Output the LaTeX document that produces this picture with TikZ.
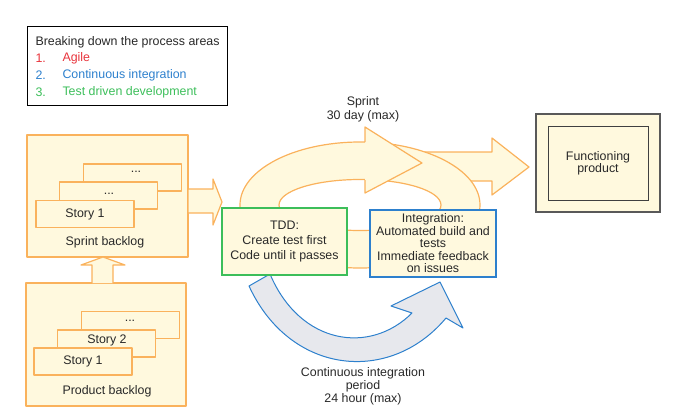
\documentclass[tikz,border=0pt]{standalone}
\usepackage{fontspec}
\setmainfont{Liberation Sans}
\usetikzlibrary{positioning}

\definecolor{agilered}{RGB}{232,52,60}
\definecolor{ciblue}{RGB}{45,128,205}
\definecolor{tddgreen}{RGB}{60,190,90}
\definecolor{paleyellow}{RGB}{255,249,222}
\definecolor{orangeline}{RGB}{250,178,92}
\definecolor{cigray}{RGB}{231,232,237}
\definecolor{textgray}{RGB}{40,40,40}

\tikzset{
  every node/.style={font=\fontsize{12.4}{13}\selectfont, text=textgray},
  area/.style={draw=orangeline, fill=paleyellow, line width=1.2pt, line join=round},
  card/.style={area, minimum width=98pt, minimum height=27pt, inner sep=0pt},
  stepbox/.style={fill=paleyellow, line width=1.2pt, minimum width=125pt, minimum height=67pt, align=center},
  ciarrow/.style={draw=ciblue, fill=cigray, line width=1pt, line join=round},
}

\begin{document}
\begin{tikzpicture}[x=1pt,y=-1pt]
   \useasboundingbox (0,0) rectangle (689,418);
   % legend
   \node[draw=black, line width=0.8pt, minimum width=200pt, minimum height=79pt] (legend) at (127,65.5) {};
   \node[anchor=west] (legtitle) at (32,42) {Breaking down the process areas};
   \foreach \n/\t/\c in {1/Agile/agilered, 2/Continuous integration/ciblue, 3/Test driven development/tddgreen}
     {
     \node[anchor=west, text=\c] (num\n) at (32,41+17*\n) {\n.};
     \node[anchor=west, text=\c] (item\n) at (59,41+17*\n) {\t};
     }

   % sprint backlog
   \node[area, minimum width=161pt, minimum height=122pt] (sprint) at (107.5,196) {};
   \node[card] (sb3) at (132.5,177.5) {};
   \node[card] (sb2) at (108.5,195.5) {};
   \node[card] (sb1) at (85,214) {Story 1};
   \node (sb3dots) at (136,172) {...};
   \node (sb2dots) at (109,194) {...};
   \node (sbtitle) at (105,242) {Sprint backlog};

   % product backlog
   \node[area, minimum width=160pt, minimum height=123pt] (product) at (106,344.5) {};
   \node[card] (pb3) at (130.5,325) {};
   \node[card] (pb2) at (106.5,343.5) {};
   \node[card] (pb1) at (83,361.5) {Story 1};
   \node (pb3dots) at (130,321) {...};
   \node (pb2text) at (107,340.5) {Story 2};
   \node (pbtitle) at (107,391) {Product backlog};

   % block arrows between the backlogs and into the loop
   \draw[area] (92,283) -- (92,265) -- (81,265) -- (103,257) -- (125,265) -- (113,265) -- (113,283);
   \filldraw[area] (188,189) -- (213,189) -- (213,179) -- (222,202) -- (213,225) -- (213,213) -- (188,213) -- cycle;

   % on to the product, behind the loop
   \filldraw[area] (420,152) -- (492,152) -- (492,138) -- (529,167) -- (492,195) -- (492,181) -- (420,181) -- cycle;

   % sprint loop
   \filldraw[area, even odd rule] (360,205) ellipse [x radius=120pt, y radius=63pt]
                                  (360,205) ellipse [x radius=81pt, y radius=25.5pt];
   \fill[paleyellow] (365,142) -- (365,127) -- (422,163) -- (365,193) -- (365,180) -- cycle;
   \draw[area, fill=none] (365,142) -- (365,127) -- (422,163) -- (365,193) -- (365,180);
   \node[align=center, font=\fontsize{12.4}{14}\selectfont] (sprintlabel) at (363,109) {Sprint\\30 day (max)};

   % continuous integration
   \filldraw[ciarrow] (249,286) .. controls (290,375) and (390,385) .. (446,318) -- (463,328) -- (440,282)
        -- (391,306) -- (412,313) .. controls (370,355) and (300,345) .. (270,274) -- cycle;
   \node[align=center] (cilabel) at (363,386) {Continuous integration\\period\\24 hour (max)};

   \node[stepbox, draw=tddgreen, font=\fontsize{12.4}{15}\selectfont] (tdd) at (284.5,241.5)
        {TDD:\\Create test first\\Code until it passes};
   \node[stepbox, draw=ciblue, minimum width=126pt, font=\fontsize{12.4}{12.5}\selectfont] (integ) at (433,243.5)
        {Integration:\\Automated build and\\tests\\Immediate feedback\\on issues};

   % result
   \node[draw=black!65, fill=paleyellow, line width=1.2pt, minimum width=124pt, minimum height=98pt] (prodouter) at (598,163) {};
   \node[draw=black!75, fill=paleyellow, line width=1pt, minimum width=100pt, minimum height=74pt, align=center,
         font=\fontsize{12.4}{12}\selectfont] (prodinner) at (598,163) {Functioning\\product};
\end{tikzpicture}
\end{document}
